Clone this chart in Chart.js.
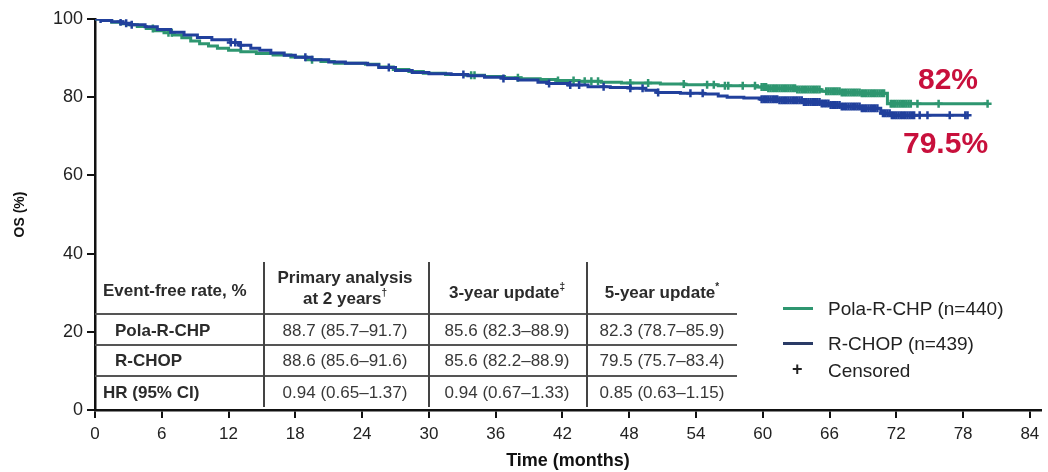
<!DOCTYPE html>
<html>
<head>
<meta charset="utf-8">
<script src="https://cdn.jsdelivr.net/npm/chart.js@4.4.1/dist/chart.umd.min.js"></script>
<style>
html,body{margin:0;padding:0;background:#fff;}
#wrap{position:relative;width:1048px;height:472px;overflow:hidden;font-family:'Liberation Sans',Arial,Helvetica,sans-serif;}
#c{position:absolute;left:0;top:0;}
.t{position:absolute;white-space:nowrap;color:#2b2b2b;line-height:1;}
.b{font-weight:bold;font-size:17px;}
.r{font-size:17px;color:#383838;}
.cx{transform:translate(-50%,-50%);text-align:center;}
.lx{transform:translateY(-50%);}
.hl{position:absolute;height:2px;background:#555;}
.vl{position:absolute;width:1.5px;background:#444;}
sup{font-size:10px;vertical-align:top;position:relative;top:-2px;}
.leg{position:absolute;font-size:19px;color:#222;white-space:nowrap;line-height:1;transform:translateY(-50%);}
.legline{position:absolute;height:3px;width:30px;}
.pct{position:absolute;font-weight:bold;font-size:30px;color:#c8103c;line-height:1;transform:translateY(-50%);white-space:nowrap;}
</style>
</head>
<body>
<div id="wrap">
<canvas id="c" width="1048" height="472"></canvas>
</div>
<script>
// ---- data ----
const xTickValues = [0, 6, 12, 18, 24, 30, 36, 42, 48, 54, 60, 66, 72, 78, 84];
const yTickValues = [0, 20, 40, 60, 80, 100];

const seriesNames = ['Pola-R-CHP (n=440)', 'R-CHOP (n=439)'];

// Kaplan-Meier step points (months, OS %)
const polaTimes  = [0, 0.8, 1.5, 2.3, 3.0, 3.8, 4.6, 5.4, 6.2, 7.0, 7.8, 8.6, 9.4, 10.2, 11.0, 12.0, 13.1, 14.5, 16.0, 17.6, 19.0, 20.3, 21.5, 24.3, 25.5, 26.8, 28.2, 29.5, 31.5, 33.2, 35.0, 36.8, 38.3, 40.0, 41.5, 43.5, 45.5, 47.3, 50.8, 53.0, 56.0, 59.5, 60.4, 63.0, 65.2, 67.0, 68.8, 71.2];
const polaValues = [100, 99.6, 99.2, 98.8, 98.5, 98.1, 97.6, 97.0, 96.5, 95.9, 95.2, 94.4, 93.7, 93.1, 92.5, 92.0, 91.6, 91.2, 90.8, 90.3, 89.6, 89.1, 88.7, 88.4, 87.7, 87.1, 86.6, 86.1, 85.8, 85.6, 85.3, 85.0, 84.7, 84.5, 84.3, 84.1, 83.8, 83.6, 83.4, 83.2, 82.9, 82.6, 82.3, 82.0, 81.5, 81.2, 81.0, 78.3];
const polaEnd = 80.2;

const rchopTimes  = [0, 0.6, 1.5, 2.5, 3.2, 4.5, 5.6, 6.8, 8.0, 9.2, 10.5, 12.2, 13.0, 14.0, 14.8, 15.8, 17.0, 18.0, 19.5, 21.0, 22.5, 24.5, 25.5, 27.0, 28.5, 30.0, 32.0, 33.5, 35.0, 36.7, 38.0, 39.8, 40.7, 42.5, 44.3, 46.3, 48.1, 49.5, 50.5, 52.6, 54.7, 56.0, 56.8, 58.3, 59.8, 61.5, 63.6, 65.2, 66.0, 67.0, 68.8, 70.6, 71.5];
const rchopValues = [100, 99.6, 99.3, 98.9, 98.5, 98.0, 97.3, 96.6, 95.9, 95.3, 94.7, 94.0, 93.3, 92.5, 92.0, 91.3, 90.7, 90.2, 89.6, 89.0, 88.7, 88.3, 87.6, 86.8, 86.3, 86.0, 85.8, 85.5, 85.1, 84.8, 84.4, 83.8, 83.5, 83.1, 82.7, 82.5, 82.3, 81.8, 81.2, 81.0, 80.8, 80.3, 80.0, 79.8, 79.5, 79.2, 78.8, 78.4, 78.0, 77.6, 77.2, 75.9, 75.4];
const rchopEnd = 78.4;

// censoring times (months)
const polaCensor = [5.2, 6.6, 6.9, 19.5, 33.8, 34.1, 38.0, 41.6, 43.0, 44.0, 44.6, 45.2, 48.1, 49.7, 52.9, 55.0, 55.6, 56.6, 56.9, 58.2, 59.3,
  59.9, 60.1, 60.3, 60.5, 60.7, 60.9, 61.1, 61.3, 61.5, 61.7, 61.9, 62.1, 62.3, 62.5, 62.7, 62.9, 63.1, 63.3, 63.5, 63.7, 63.9, 64.1, 64.3, 64.5, 64.7, 64.9, 65.1,
  65.7, 65.9, 66.1, 66.3, 66.5, 66.7, 66.9, 67.1, 67.3, 67.5, 67.7, 67.9, 68.1, 68.3, 68.5, 68.7, 68.9, 69.1, 69.3, 69.5, 69.7, 69.9, 70.1, 70.3, 70.5, 70.7, 70.9,
  71.5, 71.7, 71.9, 72.1, 72.3, 72.5, 72.7, 72.9, 73.1, 73.3, 73.9, 75.8, 80.2];
const rchopCensor = [0.5, 2.3, 2.8, 3.3, 12.2, 12.6, 13.1, 18.9, 26.4, 33.1, 36.7, 40.8, 42.7, 43.5, 45.7, 48.1, 49.2, 50.6, 53.5, 54.6,
  59.9, 60.1, 60.3, 60.5, 60.7, 60.9, 61.1, 61.3, 61.5, 61.7, 61.9, 62.1, 62.3, 62.5, 62.7, 62.9, 63.1, 63.3, 63.5, 63.7, 63.9, 64.1, 64.3, 64.5, 64.7, 64.9,
  65.1, 65.3, 65.5, 65.7, 65.9, 66.1, 66.3, 66.5, 66.7, 66.9, 67.1, 67.3, 67.5, 67.7, 67.9, 68.1, 68.3, 68.5, 68.7, 68.9, 69.1, 69.3, 69.5, 69.7, 69.9, 70.1, 70.3,
  70.8, 71.0, 71.2, 71.4, 71.6, 71.8, 72.0, 72.2, 72.4, 72.6, 72.8, 73.0, 73.2, 73.4, 73.6, 74.1, 74.8, 76.8, 78.2, 78.4];

// table
const tableHeader = ['Event-free rate, %', 'Primary analysis', 'at 2 years', '3-year update', '5-year update'];
const tableRowLabels = ['Pola-R-CHP', 'R-CHOP', 'HR (95% CI)'];
const colPrimary = ['88.7 (85.7–91.7)', '88.6 (85.6–91.6)', '0.94 (0.65–1.37)'];
const col3yr     = ['85.6 (82.3–88.9)', '85.6 (82.2–88.9)', '0.94 (0.67–1.33)'];
const col5yr     = ['82.3 (78.7–85.9)', '79.5 (75.7–83.4)', '0.85 (0.63–1.15)'];
const annotations = ['82%', '79.5%'];

// ---- build ----
const GREEN = '#2e9670';
const BLUE = '#21409c';
const FONT = "'Liberation Sans', Arial, Helvetica, sans-serif";

function stepPoints(times, values, end) {
  const pts = times.map((t, i) => ({x: t, y: values[i]}));
  pts.push({x: end, y: values[values.length - 1]});
  return pts;
}
function valueAt(times, values, t) {
  let v = values[0];
  for (let i = 0; i < times.length; i++) if (times[i] <= t) v = values[i];
  return v;
}
function censorPoints(cens, times, values) {
  return cens.map(t => ({x: t, y: valueAt(times, values, t)}));
}

const chart = new Chart(document.getElementById('c'), {
  type: 'line',
  data: {
    datasets: [
      {label: seriesNames[1], data: stepPoints(rchopTimes, rchopValues, rchopEnd), stepped: true,
       borderColor: BLUE, borderWidth: 3, pointRadius: 0, fill: false},
      {label: 'R-CHOP censored', type: 'scatter', data: censorPoints(rchopCensor, rchopTimes, rchopValues),
       pointStyle: 'cross', pointRadius: 4, pointBorderWidth: 2.5, borderColor: BLUE, backgroundColor: BLUE, showLine: false},
      {label: seriesNames[0], data: stepPoints(polaTimes, polaValues, polaEnd), stepped: true,
       borderColor: GREEN, borderWidth: 3, pointRadius: 0, fill: false},
      {label: 'Pola censored', type: 'scatter', data: censorPoints(polaCensor, polaTimes, polaValues),
       pointStyle: 'cross', pointRadius: 4, pointBorderWidth: 2.5, borderColor: GREEN, backgroundColor: GREEN, showLine: false}
    ]
  },
  options: {
    responsive: false,
    animation: false,
    layout: {padding: {top: 19, right: 7, left: 0, bottom: 0}},
    plugins: {legend: {display: false}, tooltip: {enabled: false}},
    scales: {
      x: {
        type: 'linear', min: 0, max: 85,
        afterBuildTicks: s => { s.ticks = xTickValues.map(v => ({value: v})); },
        afterFit: s => { s.height = 62; },
        grid: {drawOnChartArea: false, drawTicks: true, tickLength: 8, color: '#111', lineWidth: 2},
        border: {display: true, color: '#111', width: 2.5},
        ticks: {color: '#222', font: {family: FONT, size: 17}, padding: 6, maxRotation: 0, autoSkip: false},
        title: {display: true, text: 'Time (months)', color: '#111', font: {family: FONT, size: 18, weight: 'bold'}, padding: {top: 0, bottom: 0}}
      },
      y: {
        min: 0, max: 100,
        afterBuildTicks: s => { s.ticks = yTickValues.map(v => ({value: v})); },
        afterFit: s => { s.width = 95; },
        grid: {drawOnChartArea: false, drawTicks: true, tickLength: 8, color: '#111', lineWidth: 2},
        border: {display: true, color: '#111', width: 2.5},
        ticks: {color: '#222', font: {family: FONT, size: 18}, padding: 4},
        title: {display: true, text: 'OS (%)', color: '#111', font: {family: FONT, size: 14, weight: 'bold'}, padding: {top: 12, bottom: 0}}
      }
    }
  }
});

// ---- HTML overlay: table, legend, annotations ----
const wrap = document.getElementById('wrap');
function add(cls, html, style) {
  const d = document.createElement('div');
  d.className = cls; d.innerHTML = html;
  Object.assign(d.style, style);
  wrap.appendChild(d);
  return d;
}
const area = chart.chartArea;
const tblLeft = area.left, tblRight = 737;
const rowLines = [314, 345, 376];
const colLines = [263, 428, 586];
const colCenters = [345, 507, 662];
const rowCenters = [330, 360, 392];
rowLines.forEach(y => add('hl', '', {left: tblLeft + 'px', top: (y - 1) + 'px', width: (tblRight - tblLeft) + 'px'}));
colLines.forEach(x => add('vl', '', {left: x + 'px', top: '262px', height: '145px'}));

add('t b lx', tableHeader[0], {left: '103px', top: '290px'});
add('t b cx', tableHeader[1], {left: colCenters[0] + 'px', top: '277px'});
add('t b cx', tableHeader[2] + '<sup>†</sup>', {left: colCenters[0] + 'px', top: '298px'});
add('t b cx', tableHeader[3] + '<sup>‡</sup>', {left: colCenters[1] + 'px', top: '292px'});
add('t b cx', tableHeader[4] + '<sup>*</sup>', {left: colCenters[2] + 'px', top: '292px'});
tableRowLabels.forEach((lab, i) => add('t b lx', lab, {left: (i < 2 ? 115 : 103) + 'px', top: rowCenters[i] + 'px'}));
[colPrimary, col3yr, col5yr].forEach((col, c) => col.forEach((v, r) =>
  add('t r cx', v, {left: colCenters[c] + 'px', top: rowCenters[r] + 'px'})));

// legend
add('legline', '', {left: '783px', top: '307px', background: GREEN});
add('leg', seriesNames[0], {left: '828px', top: '308px'});
add('legline', '', {left: '783px', top: '342px', background: '#2a3b66'});
add('leg', seriesNames[1], {left: '828px', top: '343px'});
add('leg', '<b>+</b>', {left: '792px', top: '369px', fontSize: '18px'});
add('leg', 'Censored', {left: '828px', top: '370px'});

// annotations
add('pct', annotations[0], {left: '918px', top: '79px'});
add('pct', annotations[1], {left: '903px', top: '143px'});
</script>
</body>
</html>
